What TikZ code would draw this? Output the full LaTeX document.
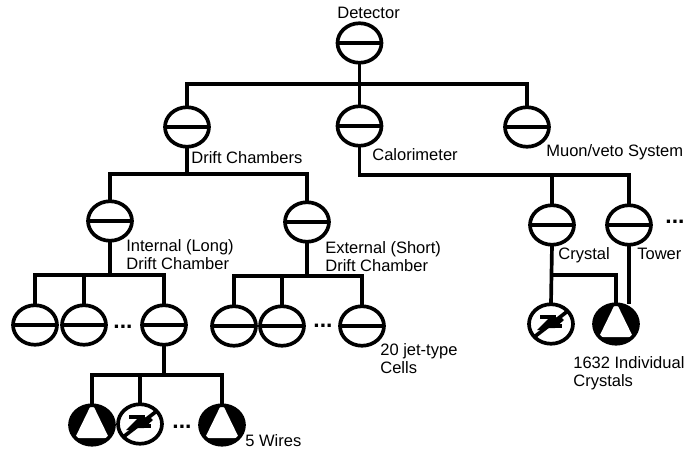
\documentclass[tikz,border=0pt]{standalone}
\usepackage{fontspec}
\setmainfont{Liberation Sans}
\usetikzlibrary{shapes.geometric}
\tikzset{
  vessel/.style={ellipse, draw, line width=2.1pt, fill=white, inner sep=0pt, outer sep=0pt, minimum width=0.88cm, minimum height=0.79cm},
  volume/.style={vessel, path picture={\draw[line width=2.1pt] (path picture bounding box.west) -- (path picture bounding box.east);}},
  sensor/.style={vessel, fill=black, path picture={\fill[white, shift={(path picture bounding box.center)}] (0,-22) -- (17,13) -- (-17,13) -- cycle;}},
  flipper/.style={vessel, path picture={
    \begin{scope}[shift={(path picture bounding box.center)}]
      \draw[line width=2.1pt] (-22,17) -- (22,-17);
      \fill[black] (-11,-9) -- (5,-9) -- (5,-5) -- (-11,-5) -- cycle;
      \fill[black] (-3,0) -- (11,0) -- (11,4) -- (-3,4) -- cycle;
      \fill[black] (-14,6) -- (1,-9) -- (8,-5) -- (-6,6) -- cycle;
      \fill[black] (-4,4) -- (9,-8) -- (13,-4) -- (4,4) -- cycle;
    \end{scope}}},
  wire/.style={line width=2.1pt},
  tag/.style={font=\fontsize{9.4}{10.3}\selectfont, inner sep=0pt, anchor=west, align=left},
  more/.style={font=\fontsize{13}{13}\bfseries\selectfont, inner sep=0pt}
}
\begin{document}
\begin{tikzpicture}[x=0.02cm, y=-0.02cm]
  \useasboundingbox (0,0) rectangle (684,450);
  % top levels
  \node[volume] (detector) at (359.5,43) {};
  \node[volume] (drift) at (187,127) {};
  \node[volume] (calor) at (359.5,126) {};
  \node[volume] (muon) at (527,127) {};
  % chambers
  \node[volume] (internal) at (110,221) {};
  \node[volume] (external) at (307,222) {};
  \node[volume] (cellA) at (35,325) {};
  \node[volume] (cellB) at (84,325) {};
  \node[volume] (cellC) at (164,325) {};
  \node[volume] (cellD) at (234,326) {};
  \node[volume] (cellE) at (282,326) {};
  \node[volume] (cellF) at (362,326) {};
  % calorimeter side
  \node[volume] (crystal) at (552,225) {};
  \node[volume] (tower) at (629,225) {};
  \node[flipper] (flipC) at (551,324) {};
  \node[sensor] (sensC) at (616,324) {};
  % wires
  \node[sensor] (sensA) at (92,425) {};
  \node[flipper] (flipA) at (140,424) {};
  \node[sensor] (sensB) at (222,425) {};
  % bus points
  \coordinate (busTop) at (359.5,84);
  \coordinate (busDrift) at (187,174);
  \coordinate (busCalor) at (359.5,175);
  \coordinate (busInt) at (110,275);
  \coordinate (busExt) at (307,276);
  \coordinate (busWire) at (164,375);
  \coordinate (busCrystal) at (552,275);
  % connectors
  \draw[wire] (detector.south) -- (calor.north);
  \draw[wire] (drift.north) |- (busTop) -| (muon.north);
  \draw[wire] (drift.south) -- (busDrift);
  \draw[wire] (internal.north) |- (busDrift) -| (external.north);
  \draw[wire] (calor.south) -- (busCalor) -| (tower.north);
  \draw[wire] (crystal.north) -- (crystal.north |- busCalor);
  \draw[wire] (internal.south) -- (busInt);
  \draw[wire] (cellA.north) |- (busInt) -| (cellC.north);
  \draw[wire] (cellB.north) -- (cellB.north |- busInt);
  \draw[wire] (external.south) -- (busExt);
  \draw[wire] (cellD.north) |- (busExt) -| (cellF.north);
  \draw[wire] (cellE.north) -- (cellE.north |- busExt);
  \draw[wire] (cellC.south) -- (busWire);
  \draw[wire] (sensA.north) |- (busWire) -| (sensB.north);
  \draw[wire] (flipA.north) -- (flipA.north |- busWire);
  \draw[wire] (crystal.south) -- (flipC.north);
  \draw[wire] (busCrystal) -| (sensC.north);
  \draw[wire] (tower.south) -- (tower.south |- sensC.north);
  % labels
  \node[tag] (detectorTag) at (337,13) {Detector};
  \node[tag] (driftTag) at (191,158) {Drift Chambers};
  \node[tag] (calorTag) at (372,155) {Calorimeter};
  \node[tag] (muonTag) at (546,152) {Muon/veto System};
  \node[tag] (internalTag) at (126,255) {Internal (Long)\\Drift Chamber};
  \node[tag] (externalTag) at (325,257) {External (Short)\\Drift Chamber};
  \node[tag] (cellTag) at (380,359) {20 jet-type\\Cells};
  \node[tag] (sensTag) at (573,373) {1632 Individual\\Crystals};
  \node[tag] (wireTag) at (245,441) {5 Wires};
  \node[tag] (crystalTag) at (558,255) {Crystal};
  \node[tag] (towerTag) at (637,254) {Tower};
  % dots
  \node[more] (moreA) at (123,327) {...};
  \node[more] (moreB) at (323,326) {...};
  \node[more] (moreC) at (182,427) {...};
  \node[more] (moreD) at (675,222) {...};
\end{tikzpicture}
\end{document}
